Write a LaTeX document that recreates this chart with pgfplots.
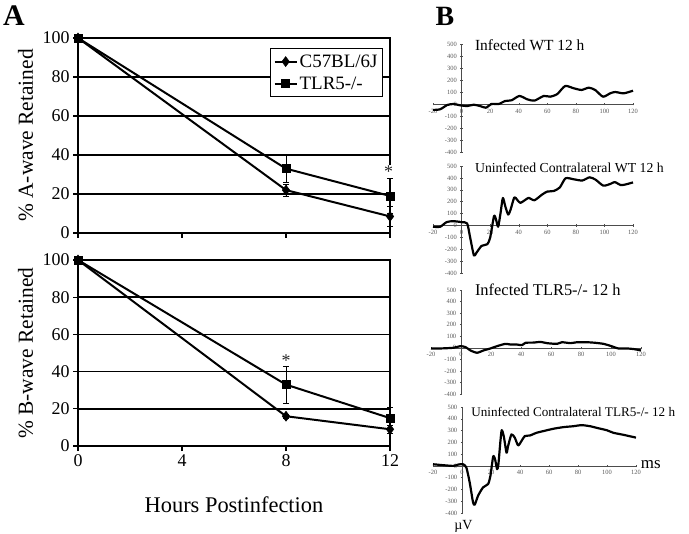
\documentclass[border=0pt]{standalone}
\usepackage{fontspec}
\setmainfont{Liberation Serif}
\usepackage{pgfplots}
\pgfplotsset{compat=1.18}
\pgfplotsset{
  lefta/.style={
    scale only axis, width=312bp, xmin=0, xmax=12, ymin=0, ymax=100,
    xtick={0,4,8,12}, ytick={0,20,40,60,80,100},
    tick pos=left, tick align=outside, major tick length=5bp,
    ymajorgrids, grid style={black, line width=1.7pt},
    axis line style={black, line width=1.4pt},
    tick style={black, line width=1.1pt},
    /pgf/number format/assume math mode=true,
    tick label style={font=\fontsize{18}{18}\selectfont},
    ylabel style={font=\fontsize{21.5}{21.5}\selectfont, at={(axis description cs:-0.168,0.5)}, anchor=center},
    clip=false,
  },
  erg/.style={
    scale only axis, xmin=-20, xmax=120, ymin=-400, ymax=500,
    axis lines=middle, axis line style={-, gray!60!black, line width=0.5pt},
    xtick={-20,0,20,40,60,80,100,120}, ytick={-400,-300,-200,-100,0,100,200,300,400,500},
    hide obscured x ticks=false, hide obscured y ticks=false,
    /pgf/number format/assume math mode=true,
    tick label style={font=\fontsize{6.5}{6.5}\selectfont, text=gray!70!black},
    major tick length=2.5bp, tick style={gray!60!black, line width=0.4pt},
    clip=false,
  },
  trace/.style={black, line width=2.2pt, line join=round, smooth, tension=0.4, no markers},
  c57/.style={black, line width=2pt, mark=diamond*, mark size=5bp, mark options={solid, fill=black, line width=0.5pt},
    error bars/.cd, y dir=both, y explicit, error bar style={line width=0.8pt},
    error mark options={rotate=90, mark size=3bp, line width=0.8pt}},
  tlr/.style={black, line width=2pt, mark=square*, mark size=4bp, mark options={solid, fill=black, line width=0.5pt},
    error bars/.cd, y dir=both, y explicit, error bar style={line width=0.8pt},
    error mark options={rotate=90, mark size=3bp, line width=0.8pt}},
}
\newcommand{\lfont}{\fontsize{19}{19}\selectfont}
\begin{document}
\begin{tikzpicture}
\useasboundingbox (0,0) rectangle (689bp,534bp);
\node[font=\bfseries\fontsize{30}{30}\selectfont] at (14bp,518bp) {A};
\node[font=\bfseries\fontsize{28}{28}\selectfont] at (445bp,518bp) {B};

% ---------- A-wave ----------
\begin{axis}[lefta, at={(78bp,301bp)}, anchor=south west, height=195bp,
  xticklabels={},
  ylabel={\% A-wave Retained},
  legend style={at={(rel axis cs:0.978,0.949)}, anchor=north east, draw=black, line width=1.3pt,
    fill=white, row sep=4bp, inner xsep=3bp, inner ysep=4bp},
  legend cell align=left,
  legend image code/.code={\draw[mark repeat=2, mark phase=2] plot coordinates {(0bp,0bp) (11bp,0bp) (22bp,0bp)};},
]
\addplot+[c57] table[x=x, y=y, y error=e] {
x y e
0 100 0
8 22 3
12 8.5 5
};
\addlegendentry{\lfont C57BL/6J}
\addplot+[tlr] table[x=x, y=y, y error=e] {
x y e
0 100 0
8 33 7
12 19 9
};
\addlegendentry{\lfont TLR5-/-}
\coordinate (astA) at (axis cs:11.95,31.5);
\end{axis}
\node[font=\fontsize{18}{18}\selectfont, text=black!85, fill=white, inner sep=0.2bp] at (astA) {*};

% ---------- B-wave ----------
\begin{axis}[lefta, at={(78bp,88bp)}, anchor=south west, height=186bp,
  ylabel={\% B-wave Retained},
  xlabel={Hours Postinfection},
  xlabel style={font=\fontsize{22.5}{22.5}\selectfont, at={(axis description cs:0.5,-0.317)}, anchor=center},
]
\addplot+[c57] table[x=x, y=y, y error=e] {
x y e
0 100 0
8 16 1
12 9 2
};
\addplot+[tlr] table[x=x, y=y, y error=e] {
x y e
0 100 0
8 33 10
12 15 6
};
\node[font=\fontsize{18}{18}\selectfont, text=black!85] at (axis cs:8,46) {*};
\end{axis}

% ---------- Infected WT ----------
\begin{axis}[erg, at={(433bp,382bp)}, anchor=south west, width=200bp, height=108bp]
\addplot[trace] coordinates {
(-20,-50) (-15,-44) (-10,-8) (-5.5,0) (-1,-11) (4,-17) (8.5,-6) (13,-17) (17,-31)
(21,0) (26,0) (30.5,25) (35,31) (40.5,67) (46,39) (51,28) (57.5,67) (62,61)
(67,83) (72.5,150) (78.5,131) (84,117) (89,136) (93.5,117) (99,61) (104,89)
(107.5,100) (113.5,89) (120,111)
};
\node[anchor=west, font=\fontsize{15.5}{15.5}\selectfont] at (axis cs:7,490) {Infected WT 12 h};
\end{axis}

% ---------- Uninfected WT ----------
\begin{axis}[erg, at={(433bp,261bp)}, anchor=south west, width=200bp, height=107bp]
\addplot[trace] coordinates {
(-20,-11) (-15,-11) (-10.5,28) (-6,36) (0,28) (3.9,17) (5.8,-89) (8.6,-250)
(10.5,-228) (14,-172) (18,-158) (20,-103) (22.7,78) (24.1,50) (25.6,-11)
(27.3,106) (28.9,231) (30.6,161) (32.6,92) (34.3,133) (36.9,236) (38.8,217)
(41.1,190) (44.6,215) (47,232) (51,212) (56.4,260) (60,285) (64.6,290)
(68.8,320) (72.8,397) (78.6,388) (84.5,378) (89.6,405) (93.8,385) (99.2,335)
(104.3,350) (107.2,365) (111.4,340) (114.9,345) (120,362)
};
\node[anchor=west, font=\fontsize{13.8}{13.8}\selectfont] at (axis cs:7,483) {Uninfected Contralateral WT 12 h};
\end{axis}

% ---------- Infected TLR5 ----------
\begin{axis}[erg, at={(431bp,140bp)}, anchor=south west, width=210bp, height=104bp]
\addplot[trace] coordinates {
(-20,-6) (-14,-6) (-5,0) (-0.5,14) (3,6) (6.3,-23) (10.7,-43) (15,-23) (19.6,-6)
(24,14) (29.6,34) (33,28) (37.3,28) (40.7,23) (43,43) (48.5,45) (53,51) (57.3,40)
(64,34) (67.3,48) (73,40) (77.3,48) (84,48) (89.6,43) (95,34) (99.6,17)
(105,-6) (110.7,-6) (115,-11) (120,-23)
};
\node[anchor=west, font=\fontsize{16.5}{16.5}\selectfont] at (axis cs:7,500) {Infected TLR5-/- 12 h};
\end{axis}

% ---------- Uninfected TLR5 ----------
\begin{axis}[erg, at={(433bp,21bp)}, anchor=south west, width=203bp, height=106bp]
\addplot[trace] coordinates {
(-20,14) (-13,6) (-6,0) (-2.7,11) (0.7,14) (3,-14) (5.3,-140) (7.6,-309)
(8.8,-329) (11.1,-253) (14.5,-183) (18,-154) (19.6,-84) (21.5,79) (22.8,56)
(24.2,-28) (25.1,14) (26.5,211) (27.4,303) (28.8,253) (30.7,112) (31.8,169)
(34.1,267) (36.4,239) (38.7,174) (41,211) (43.3,253) (46.8,258) (51.4,281)
(56,295) (62.9,315) (69.9,329) (76.8,337) (82.5,346) (88.3,337) (92.9,323)
(99.8,303) (104.4,281) (111.3,264) (120,240)
};
\node[anchor=west, font=\fontsize{13.2}{13.2}\selectfont] at (axis cs:4,458) {Uninfected Contralateral TLR5-/- 12 h};
\node[anchor=west, font=\fontsize{17}{17}\selectfont] at (axis cs:121,10) {ms};
\node[anchor=center, font=\fontsize{14}{14}\selectfont] at (axis cs:1,-513) {µV};
\end{axis}
\end{tikzpicture}
\end{document}
